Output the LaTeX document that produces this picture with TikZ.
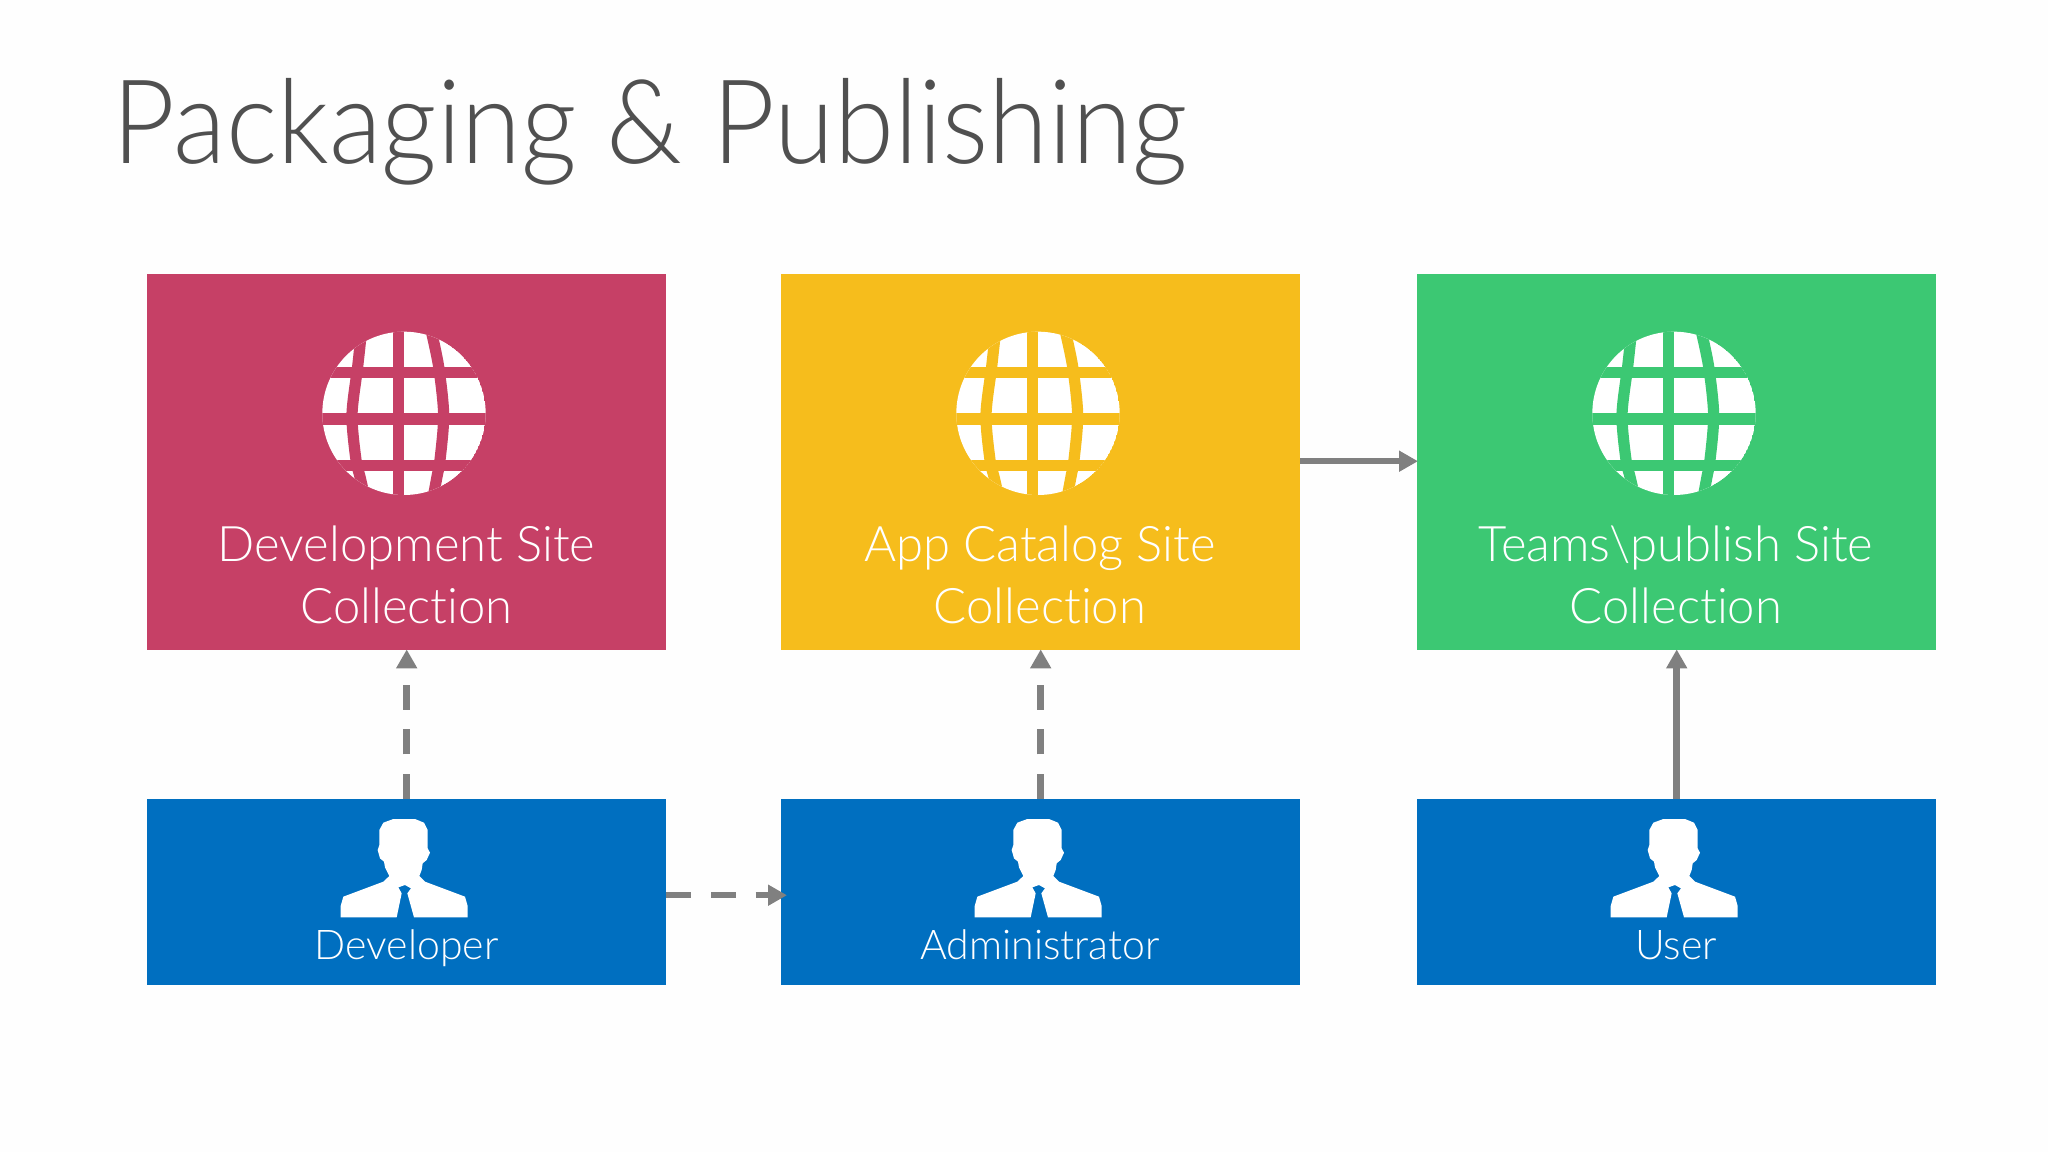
\documentclass[tikz,border=0pt]{standalone}
\usepackage{fontspec}
\setmainfont[Ligatures={NoCommon}]{Lato Light}
\newfontfamily\titlefont[FakeStretch=0.93,Ligatures={NoCommon}]{Lato Light}
\usetikzlibrary{arrows.meta}
\definecolor{pinkbox}{HTML}{C64066}
\definecolor{yellowbox}{HTML}{F6BD1C}
\definecolor{greenbox}{HTML}{3CC873}
\definecolor{bluebox}{HTML}{006FC0}
\definecolor{arrowgray}{HTML}{808080}
\definecolor{titlegray}{HTML}{505050}
\definecolor{pagebg}{HTML}{FEFEFE}
\tikzset{
  sitebox/.style={draw=none,inner sep=0pt,minimum width=519pt,minimum height=376pt,anchor=north west,text=white},
  rolebox/.style={draw=none,fill=bluebox,inner sep=0pt,minimum width=519pt,minimum height=186pt,anchor=north west},
  boxlabel/.style={text=white,font=\fontsize{49}{60}\selectfont,align=center,inner sep=0pt},
  rolelabel/.style={text=white,font=\fontsize{41}{50}\selectfont,inner sep=0pt},
  conn/.style={draw=arrowgray,line width=6.5pt,shorten >=-1pt,-{Triangle[length=19pt,width=20pt]}},
  dashconn/.style={conn,dash pattern=on 25pt off 19.6pt},
}
\newcommand{\globeicon}[2]{%
  \begin{scope}[shift={(280+#1,300)},scale=1/3]
    \begin{scope}
      \clip (372,340) circle (245);
      \fill[white] (372,340) circle (245);
      \foreach \yy in {218,357.5,497}
        \draw[#2,line width=11.6pt] (100,\yy) -- (650,\yy);
      \draw[#2,line width=11.4pt] (355,80) -- (355,600);
      \draw[#2,line width=11.2pt] plot[smooth] coordinates {(245,90) (233,200) (216,345) (228,480) (240,530) (256,600)};
      \draw[#2,line width=11.2pt] plot[smooth] coordinates {(453,90) (476,200) (491,345) (480,480) (471,530) (458,600)};
    \end{scope}
  \end{scope}}
\newcommand{\personicon}[1]{%
  \begin{scope}[shift={(300+#1,780)},scale=1/3]
    \fill[white,even odd rule] (122,412) -- (122,378) -- (130,350) -- (250,305) -- (268,288) -- (255,262) -- (252,245) -- (240,235) -- (233,210) -- (238,195) -- (238,150) -- (250,128) -- (280,117) -- (345,117) -- (372,128) -- (383,150) -- (383,205) -- (390,218) -- (380,240) -- (368,250) -- (365,270) -- (358,288) -- (375,305) -- (495,350) -- (503,378) -- (503,412) -- (342,412) -- (322,340) -- (333,325) -- (315,315) -- (295,322) -- (305,340) -- (290,412) -- cycle;
  \end{scope}}
\begin{document}
\begin{tikzpicture}[x=1pt,y=-1pt]
\useasboundingbox (0,0) rectangle (2048,1152);
\fill[pagebg] (0,0) rectangle (2048,1152);
\node[anchor=base west,inner sep=0pt,text=titlegray,font=\titlefont\fontsize{117}{125}\selectfont] (title) at (112,163) {Packaging \& Publishing};

\node[sitebox,fill=pinkbox] (dev) at (147,274) {};
\node[sitebox,fill=yellowbox] (app) at (781,274) {};
\node[sitebox,fill=greenbox] (teams) at (1417,274) {};
\node[rolebox] (developer) at (147,799) {};
\node[rolebox] (admin) at (781,799) {};
\node[rolebox] (user) at (1417,799) {};

\globeicon{0}{pinkbox}
\globeicon{634}{yellowbox}
\globeicon{1270}{greenbox}
\personicon{0}
\personicon{634}
\personicon{1270}

\node[boxlabel,anchor=base] (devlab) at (406.5,561) {Development Site};
\node[boxlabel,anchor=base] (devlab2) at (406.5,623) {Collection};
\node[boxlabel,anchor=base] (applab) at (1040,561) {App Catalog Site};
\node[boxlabel,anchor=base] (applab2) at (1040,623) {Collection};
\node[boxlabel,anchor=base] (teamslab) at (1676,561) {Teams\textbackslash publish Site};
\node[boxlabel,anchor=base] (teamslab2) at (1676,623) {Collection};
\node[rolelabel,anchor=base] (devrole) at (406.5,959) {Developer};
\node[rolelabel,anchor=base] (adminrole) at (1040,959) {Administrator};
\node[rolelabel,anchor=base] (userrole) at (1676,959) {User};

\draw[dashconn] (developer.north) -- (dev.south);
\draw[dashconn] (admin.north) -- (app.south);
\draw[conn] (user.north) -- (teams.south);
\draw[conn] ([yshift=1pt]app.east) -- ([yshift=1pt]teams.west);
\draw[dashconn] ([yshift=-3pt]developer.east) -- ([xshift=5pt,yshift=-3pt]admin.west);
\end{tikzpicture}
\end{document}
